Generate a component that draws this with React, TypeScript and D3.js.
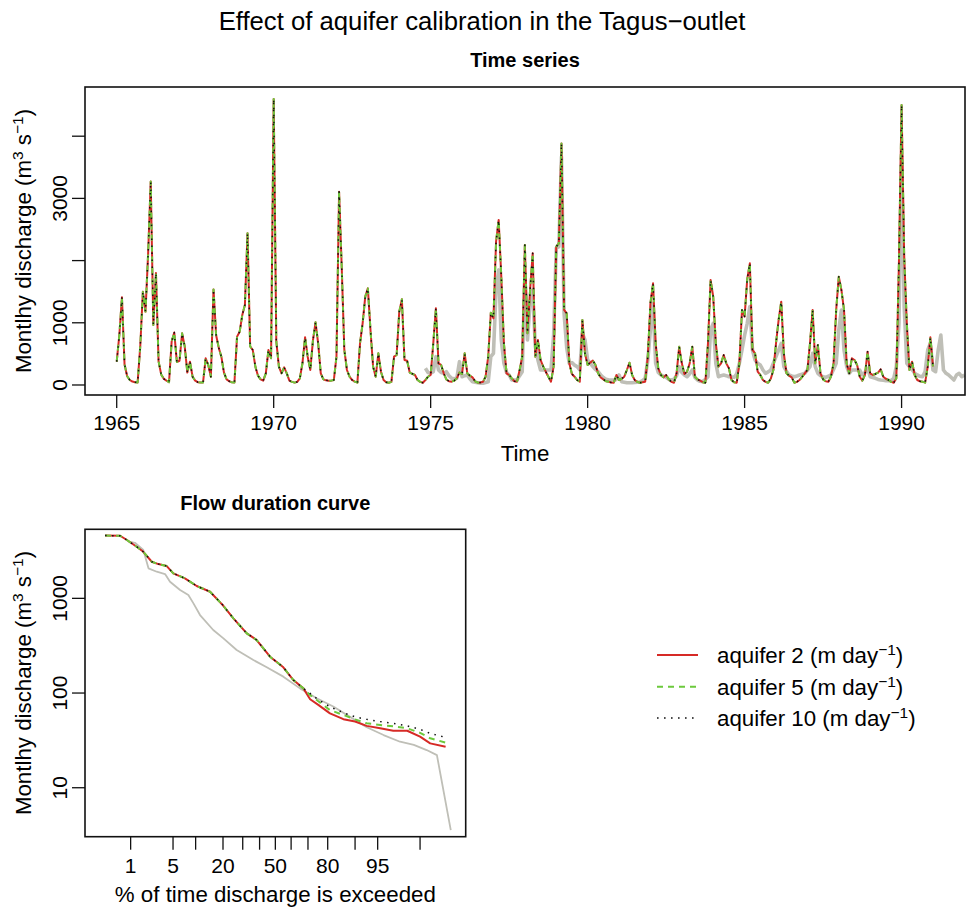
import React from 'react';
import * as d3 from 'd3';

// ---------------- data ----------------
const SIM_START_YEAR = 1965; // monthly, first value Jan 1965
const simDischarge = [
  375, 800, 1410, 330, 140, 80, 55, 45, 40, 620, 1500, 1180,
  2100, 3270, 965, 1800, 380, 170, 100, 70, 45, 700, 843, 370,
  390, 830, 620, 200, 375, 133, 70, 45, 40, 40, 428, 320,
  133, 1537, 800, 600, 455, 200, 90, 60, 45, 40, 777, 857,
  1125, 1286, 2438, 620, 563, 295, 150, 90, 70, 188, 563, 430,
  4598, 700, 295, 188, 284, 188, 70, 50, 38, 50, 107, 350,
  766, 455, 241, 713, 1008, 670, 188, 91, 75, 70, 70, 80,
  455, 3107, 1900, 563, 241, 133, 80, 53, 37, 670, 992, 1420,
  1554, 885, 295, 133, 510, 214, 80, 45, 37, 50, 455, 482,
  1179, 1377, 402, 391, 200, 180, 161, 80, 50, 37, 80, 133,
  161, 670, 1233, 348, 322, 188, 90, 60, 53, 70, 107, 200,
  177, 509, 188, 150, 123, 60, 37, 40, 53, 133, 455, 1163,
  1072, 2304, 2653, 1742, 670, 188, 161, 107, 60, 53, 241, 455,
  2250, 831, 1528, 2117, 455, 723, 402, 300, 214, 133, 53, 295,
  2224, 2277, 3884, 1206, 1152, 348, 177, 133, 80, 53, 1045, 500,
  322, 360, 391, 322, 188, 120, 91, 60, 53, 40, 37, 161,
  80, 100, 133, 241, 359, 161, 80, 50, 37, 45, 53, 455,
  1313, 1635, 670, 268, 161, 123, 161, 91, 50, 37, 188, 616,
  348, 177, 214, 348, 616, 133, 90, 70, 45, 37, 670, 1688,
  1420, 670, 295, 348, 482, 348, 268, 80, 45, 37, 348, 1206,
  1100, 1700, 1956, 563, 509, 214, 161, 80, 50, 37, 100, 241,
  670, 1045, 1340, 509, 188, 150, 123, 37, 50, 80, 130, 188,
  241, 670, 1206, 348, 643, 188, 91, 60, 53, 133, 348, 1206,
  1742, 1528, 1206, 348, 188, 429, 402, 322, 133, 70, 161, 536,
  188, 161, 177, 200, 252, 133, 100, 80, 50, 37, 107, 2000,
  4503, 2063, 992, 241, 375, 161, 80, 60, 53, 37, 295, 766,
  300,
];

const OBS_START_YEAR = 1974;
const OBS_START_MONTH = 10; // 0-based month index (Nov)
const obsDischarge = [
  268, 200, 188, 214, 455, 241, 200, 188, 214, 150, 107, 100,
  107, 375, 133, 150, 161, 100, 53, 45, 37, 30, 27, 40,
  53, 455, 509, 1528, 1850, 723, 348, 200, 161, 80, 80, 80,
  150, 214, 1742, 723, 1313, 1528, 616, 402, 241, 241, 241, 241,
  241, 800, 2197, 2224, 3670, 1152, 600, 348, 359, 320, 295, 241,
  831, 723, 402, 350, 295, 250, 214, 161, 120, 91, 85, 80,
  80, 90, 161, 53, 45, 37, 37, 37, 40, 45, 48, 70,
  107, 400, 885, 1313, 348, 200, 161, 140, 123, 90, 80, 91,
  150, 295, 200, 161, 133, 180, 241, 120, 80, 60, 53, 90,
  133, 885, 992, 348, 133, 150, 161, 150, 133, 128, 123, 180,
  350, 563, 800, 992, 1260, 563, 400, 348, 322, 241, 188, 210,
  241, 350, 455, 560, 670, 295, 220, 161, 145, 133, 145, 161,
  175, 188, 240, 295, 509, 295, 188, 150, 133, 123, 140, 161,
  250, 348, 885, 1206, 563, 300, 188, 241, 241, 241, 241, 161,
  200, 268, 133, 120, 107, 90, 80, 75, 70, 70, 70, 107,
  300, 992, 3670, 1260, 348, 295, 250, 188, 161, 140, 133, 214,
  563, 670, 241, 214, 563, 804, 241, 188, 161, 120, 80, 161,
  188, 133, 161,
];

const yearTicks = [1965, 1970, 1975, 1980, 1985, 1990];
const tsYTicks = [0, 1000, 2000, 3000, 4000];
const tsYLabels = [0, 1000, 3000];

// flow duration curves: % of time exceeded vs discharge
const fdcExceedSim = [0.31, 0.63, 0.85, 1.29, 1.69, 2.35, 3.0, 4.04, 5.05, 7.3, 10.3, 14.7, 19.9, 25, 32.3, 38.2, 46.6, 55.1, 61.4, 67.4, 71.2, 75.5, 81, 86.3, 90, 92.9, 95.4, 97.1, 98.3, 99, 99.36, 99.69];
const fdcAquifer2 = [4600, 4580, 4130, 3510, 3100, 2434, 2300, 2192, 1836, 1627, 1349, 1175, 849, 615, 427, 363, 242, 187, 137, 112, 86, 75, 61, 53, 50, 45, 42.4, 40, 40, 34.6, 29.4, 27.1];
const fdcAquifer5 = [4600, 4580, 4130, 3510, 3100, 2434, 2300, 2192, 1836, 1627, 1349, 1175, 849, 615, 427, 363, 242, 187, 137, 112, 95, 82, 66, 58.7, 52.7, 47.9, 46, 44.5, 42.4, 38, 33.3, 29.9];
const fdcAquifer10 = [4600, 4580, 4130, 3510, 3100, 2434, 2300, 2192, 1836, 1627, 1349, 1175, 849, 615, 427, 363, 242, 187, 137, 112, 99, 85, 71.6, 62, 56, 52.7, 50, 47.9, 45, 41.4, 37.5, 34];
const fdcExceedObs = [0.9, 1.2, 1.69, 2.07, 2.83, 3.81, 4.52, 6.28, 8.1, 9.4, 11.3, 15.9, 20.2, 26.7, 36.2, 44.5, 55.1, 65.4, 74.7, 82.4, 88.5, 92.9, 95.9, 97.75, 98.7, 99.25, 99.53, 99.76];
const fdcObserved = [4000, 3864, 3237, 2073, 1911, 1807, 1497, 1224, 1083, 885, 666, 463, 378, 285, 223, 187, 149, 112, 88, 72, 56, 43.5, 36, 30.6, 28.3, 25, 22.1, 3.57];

const fdcXTicks = [1, 5, 10, 20, 30, 40, 50, 60, 70, 80, 90, 95, 99];
const fdcXLabels = [1, 5, 20, 50, 80, 95];
const fdcYTicks = [10, 100, 1000];

const legendLabels = ['aquifer 2', 'aquifer 5', 'aquifer 10'];

// ---------------- helpers ----------------
function qnorm(p: number): number {
  const a = [-3.969683028665376e1, 2.209460984245205e2, -2.759285104469687e2, 1.38357751867269e2, -3.066479806614716e1, 2.506628277459239];
  const b = [-5.447609879822406e1, 1.615858368580409e2, -1.556989798598866e2, 6.680131188771972e1, -1.328068155288572e1];
  const c = [-7.784894002430293e-3, -3.223964580411365e-1, -2.400758277161838, -2.549732539343734, 4.374664141464968, 2.938163982698783];
  const d = [7.784695709041462e-3, 3.224671290700398e-1, 2.445134137142996, 3.754408661907416];
  const plow = 0.02425;
  if (p < plow) {
    const q = Math.sqrt(-2 * Math.log(p));
    return (((((c[0] * q + c[1]) * q + c[2]) * q + c[3]) * q + c[4]) * q + c[5]) / ((((d[0] * q + d[1]) * q + d[2]) * q + d[3]) * q + 1);
  }
  if (p <= 1 - plow) {
    const q = p - 0.5;
    const r = q * q;
    return ((((((a[0] * r + a[1]) * r + a[2]) * r + a[3]) * r + a[4]) * r + a[5]) * q) / (((((b[0] * r + b[1]) * r + b[2]) * r + b[3]) * r + b[4]) * r + 1);
  }
  const q = Math.sqrt(-2 * Math.log(1 - p));
  return -(((((c[0] * q + c[1]) * q + c[2]) * q + c[3]) * q + c[4]) * q + c[5]) / ((((d[0] * q + d[1]) * q + d[2]) * q + d[3]) * q + 1);
}

const FONT = "'Liberation Sans', Arial, Helvetica, sans-serif";
const RED = '#d62a26';
const GREEN = '#6cc93c';
const GREY = '#bfbfb7';

// ---------------- layout ----------------
const TS = { left: 85, right: 965, top: 87, bottom: 395 };
const FD = { left: 85, right: 465.7, top: 529.3, bottom: 836.7 };

export default function App() {
  const x = d3.scaleLinear().domain([1963.99, 1992.02]).range([TS.left, TS.right]);
  const y = d3.scaleLinear().domain([-161, 4791]).range([TS.bottom, TS.top]);

  const simPts: [number, number][] = simDischarge.map((v, i) => [SIM_START_YEAR + i / 12, v]);
  const obsPts: [number, number][] = obsDischarge.map((v, i) => [OBS_START_YEAR + (OBS_START_MONTH + i) / 12, v]);
  const tsLine = d3.line<[number, number]>().x(d => x(d[0])).y(d => y(d[1]));

  const zx = d3.scaleLinear().domain([-3.06, 3.06]).range([FD.left, FD.right]);
  const fx = (p: number) => zx(qnorm(p / 100));
  const fy = d3.scaleLog().domain([3.04, 5360]).range([FD.bottom, FD.top]);
  const fdLine = d3.line<[number, number]>().x(d => fx(d[0])).y(d => fy(d[1]));
  const zip = (ps: number[], qs: number[]) => ps.map((p, i) => [p, qs[i]] as [number, number]);

  const tick = 13;
  const fs = 21;
  const fsLab = 22.3;
  const supFs = 15.5;

  const ylab = (
    <>
      Montlhy discharge (m<tspan dy={-8} fontSize={supFs}>3</tspan>
      <tspan dy={8}> s</tspan>
      <tspan dy={-8} fontSize={supFs}>−1</tspan>
      <tspan dy={8}>)</tspan>
    </>
  );

  const legendY = [655, 686.7, 718];
  const legendStyles = [
    { stroke: RED, dash: undefined as string | undefined, w: 2 },
    { stroke: GREEN, dash: '6,5', w: 2 },
    { stroke: '#111', dash: '1.6,5.4', w: 1.6 },
  ];

  return (
    <svg width={966} height={910} style={{ position: 'absolute', left: 0, top: 0, background: '#fff' }} fontFamily={FONT}>
      <rect x={0} y={0} width={966} height={910} fill="#fff" />
      <defs>
        <clipPath id="tsclip">
          <rect x={TS.left} y={TS.top} width={TS.right - TS.left} height={TS.bottom - TS.top} />
        </clipPath>
        <clipPath id="fdclip">
          <rect x={FD.left} y={FD.top} width={FD.right - FD.left} height={FD.bottom - FD.top} />
        </clipPath>
      </defs>

      <text x={482} y={30} textAnchor="middle" fontSize={25.7}>Effect of aquifer calibration in the Tagus−outlet</text>

      {/* ---------- Time series ---------- */}
      <text x={(TS.left + TS.right) / 2} y={67} textAnchor="middle" fontSize={20} fontWeight="bold">Time series</text>
      <g clipPath="url(#tsclip)" fill="none" strokeLinejoin="round">
        <path d={tsLine(obsPts) || ''} stroke={GREY} strokeWidth={3.6} />
        <path d={tsLine(simPts) || ''} stroke={RED} strokeWidth={2} />
        <path d={tsLine(simPts) || ''} stroke={GREEN} strokeWidth={2} strokeDasharray="6,5" />
        <path d={tsLine(simPts) || ''} stroke="#111" strokeWidth={1.5} strokeDasharray="1.5,5.5" />
      </g>
      <rect x={TS.left} y={TS.top} width={TS.right - TS.left} height={TS.bottom - TS.top} fill="none" stroke="#111" strokeWidth={1.6} />
      {yearTicks.map(t => (
        <g key={t}>
          <line x1={x(t)} x2={x(t)} y1={TS.bottom} y2={TS.bottom + tick} stroke="#111" strokeWidth={1.3} />
          <text x={x(t)} y={430} textAnchor="middle" fontSize={fs}>{t}</text>
        </g>
      ))}
      {tsYTicks.map(t => (
        <line key={t} x1={TS.left - tick} x2={TS.left} y1={y(t)} y2={y(t)} stroke="#111" strokeWidth={1.3} />
      ))}
      {tsYLabels.map(t => (
        <text key={t} transform={`translate(66.5,${y(t)}) rotate(-90)`} textAnchor="middle" fontSize={fs}>{t}</text>
      ))}
      <text x={(TS.left + TS.right) / 2} y={461} textAnchor="middle" fontSize={fsLab}>Time</text>
      <text transform={`translate(31,${(TS.top + TS.bottom) / 2}) rotate(-90)`} textAnchor="middle" fontSize={fsLab}>{ylab}</text>

      {/* ---------- Flow duration curve ---------- */}
      <text x={(FD.left + FD.right) / 2} y={510} textAnchor="middle" fontSize={20} fontWeight="bold">Flow duration curve</text>
      <g clipPath="url(#fdclip)" fill="none" strokeLinejoin="round">
        <path d={fdLine(zip(fdcExceedObs, fdcObserved)) || ''} stroke={GREY} strokeWidth={1.8} />
        <path d={fdLine(zip(fdcExceedSim, fdcAquifer2)) || ''} stroke={RED} strokeWidth={2} />
        <path d={fdLine(zip(fdcExceedSim, fdcAquifer5)) || ''} stroke={GREEN} strokeWidth={2} strokeDasharray="6,5" />
        <path d={fdLine(zip(fdcExceedSim, fdcAquifer10)) || ''} stroke="#111" strokeWidth={1.5} strokeDasharray="1.5,5.5" />
      </g>
      <rect x={FD.left} y={FD.top} width={FD.right - FD.left} height={FD.bottom - FD.top} fill="none" stroke="#111" strokeWidth={1.6} />
      {fdcXTicks.map(t => (
        <line key={t} x1={fx(t)} x2={fx(t)} y1={FD.bottom} y2={FD.bottom + tick} stroke="#111" strokeWidth={1.3} />
      ))}
      {fdcXLabels.map(t => (
        <text key={t} x={fx(t)} y={873} textAnchor="middle" fontSize={fs}>{t}</text>
      ))}
      {fdcYTicks.map(t => (
        <g key={t}>
          <line x1={FD.left - tick} x2={FD.left} y1={fy(t)} y2={fy(t)} stroke="#111" strokeWidth={1.3} />
          <text transform={`translate(66.5,${fy(t)}) rotate(-90)`} textAnchor="middle" fontSize={fs}>{t}</text>
        </g>
      ))}
      <text x={(FD.left + FD.right) / 2} y={902} textAnchor="middle" fontSize={fsLab}>% of time discharge is exceeded</text>
      <text transform={`translate(31,${(FD.top + FD.bottom) / 2}) rotate(-90)`} textAnchor="middle" fontSize={fsLab}>{ylab}</text>

      {/* ---------- Legend ---------- */}
      {legendLabels.map((lab, i) => (
        <g key={lab}>
          <line x1={657} x2={698} y1={legendY[i]} y2={legendY[i]} stroke={legendStyles[i].stroke} strokeWidth={legendStyles[i].w} strokeDasharray={legendStyles[i].dash} />
          <text x={717} y={legendY[i] + 7.8} fontSize={fsLab}>
            {lab} (m day<tspan dy={-8} fontSize={supFs}>−1</tspan>
            <tspan dy={8}>)</tspan>
          </text>
        </g>
      ))}
    </svg>
  );
}
